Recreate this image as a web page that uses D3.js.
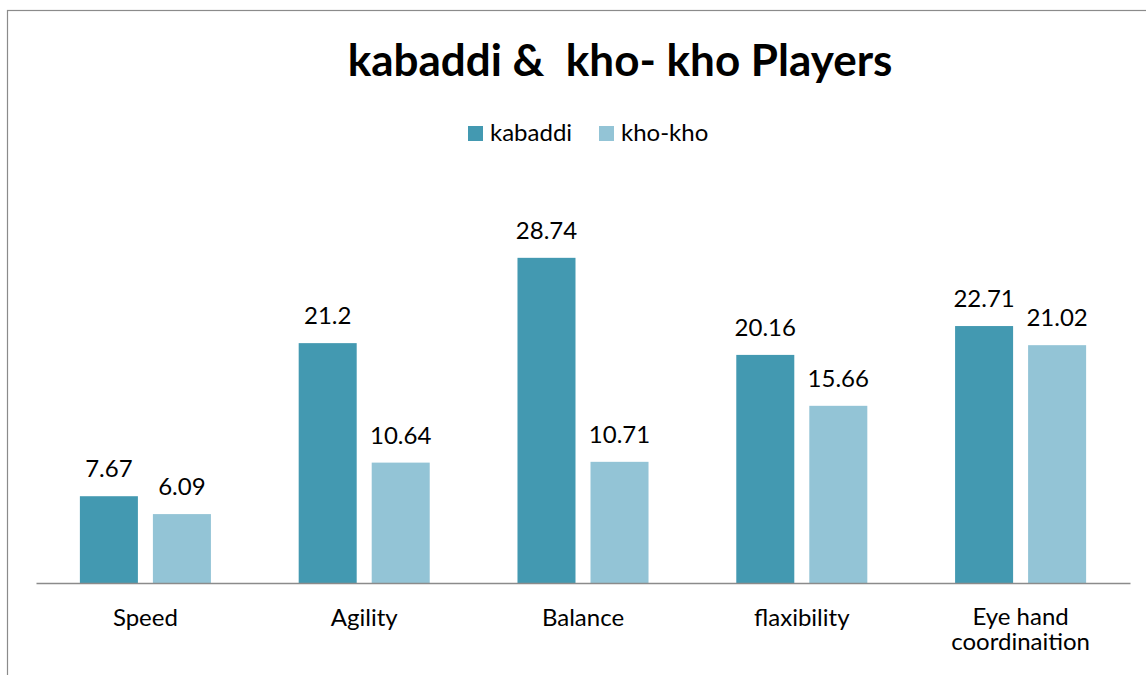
<!DOCTYPE html>
<html>
<head>
<meta charset="utf-8">
<script src="https://cdn.jsdelivr.net/npm/d3@7"></script>
<style>
    body { margin: 0; background: #fff; }
    svg text { font-family: Lato, "Noto Sans", sans-serif; fill: #000; }
</style>
</head>
<body>
<svg id="drawing_region"></svg>
<script>
const categories = ["Speed", "Agility", "Balance", "flaxibility", "Eye hand coordinaition"];
const series = ["kabaddi", "kho-kho"];
const kabaddi = [7.67, 21.2, 28.74, 20.16, 22.71];
const khokho = [6.09, 10.64, 10.71, 15.66, 21.02];
const colors = ["#4399b1", "#93c4d6"];

const data = categories.map((c, i) => ({ cat: c, values: [kabaddi[i], khokho[i]] }));

const width = 1146, height = 675;
const margin = { top: 187, right: 16, bottom: 92, left: 36 };
const inner_width = width - margin.left - margin.right;
const inner_height = height - margin.top - margin.bottom;

const svg = d3.select('#drawing_region')
    .attr('width', width)
    .attr('height', height);

// outer frame
svg.append('rect')
    .attr('x', 7.5).attr('y', 10.5)
    .attr('width', width).attr('height', height)
    .attr('fill', 'none')
    .attr('stroke', '#8b8b8b')
    .attr('stroke-width', 1.2);

const chart = svg.append('g')
    .attr('transform', `translate(${margin.left}, ${margin.top})`);

const xscale = d3.scaleBand()
    .domain(categories)
    .range([0, inner_width])
    .padding(0);

const sub = d3.scaleBand()
    .domain(series)
    .range([0, xscale.bandwidth()])
    .paddingInner(0.2055)
    .paddingOuter(0.601);

const yscale = d3.scaleLinear()
    .domain([0, 35])
    .range([inner_height, 0]);

const groups = chart.selectAll('g.cat')
    .data(data)
    .join('g')
    .attr('class', 'cat')
    .attr('transform', d => `translate(${xscale(d.cat)}, 0)`);

groups.selectAll('rect')
    .data(d => d.values.map((v, j) => ({ key: series[j], v: v, j: j })))
    .join('rect')
    .attr('x', d => sub(d.key))
    .attr('y', d => yscale(d.v))
    .attr('width', sub.bandwidth())
    .attr('height', d => inner_height - yscale(d.v))
    .attr('fill', d => colors[d.j]);

groups.selectAll('text.val')
    .data(d => d.values.map((v, j) => ({ key: series[j], v: v })))
    .join('text')
    .attr('class', 'val')
    .attr('x', d => sub(d.key) + sub.bandwidth() / 2)
    .attr('y', d => yscale(d.v) - 19)
    .attr('text-anchor', 'middle')
    .attr('font-size', '24px')
    .text(d => d.v);

// x axis
const xaxis = d3.axisBottom(xscale).tickSize(0).tickSizeOuter(0);
const xaxis_group = chart.append('g')
    .attr('transform', `translate(0, ${inner_height})`)
    .call(xaxis);
xaxis_group.select('.domain').attr('stroke', '#8b8b8b').attr('stroke-width', 1.5);
xaxis_group.selectAll('.tick text')
    .attr('font-size', '24px')
    .attr('font-family', 'Lato, sans-serif')
    .attr('fill', '#000')
    .attr('dy', null)
    .attr('y', 43)
    .each(function(d) {
        const t = d3.select(this);
        const words = d.split(' ');
        if (words.length > 2) {
            t.text(null);
            t.append('tspan').attr('x', 0).attr('y', 42).text(words.slice(0, 2).join(' '));
            t.append('tspan').attr('x', 0).attr('y', 67).text(words.slice(2).join(' '));
        }
    });

// title
svg.append('text')
    .attr('x', 620)
    .attr('y', 76)
    .attr('text-anchor', 'middle')
    .attr('font-size', '44px')
    .attr('font-weight', 700)
    .style('white-space', 'pre')
    .text("kabaddi &  kho- kho Players");

// legend
const legend_x = [468, 599];
const legend = svg.append('g');
series.forEach((s, i) => {
    legend.append('rect')
        .attr('x', legend_x[i]).attr('y', 126)
        .attr('width', 15).attr('height', 15)
        .attr('fill', colors[i]);
    legend.append('text')
        .attr('x', legend_x[i] + 22).attr('y', 141)
        .attr('font-size', '24px')
        .text(s);
});
</script>
</body>
</html>
